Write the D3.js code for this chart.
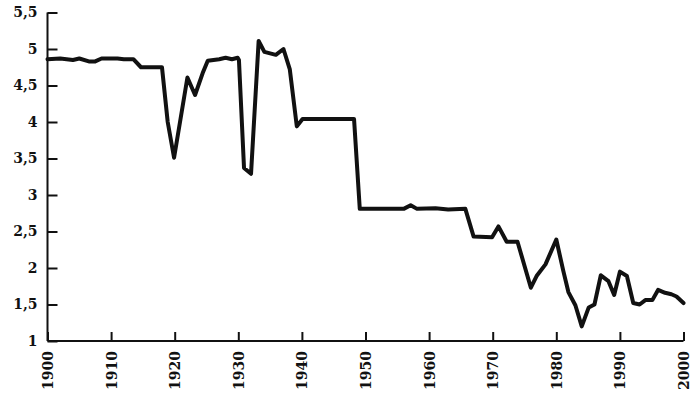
<!DOCTYPE html>
<html>
<head>
<meta charset="utf-8">
<script src="https://cdn.jsdelivr.net/npm/d3@7"></script>
<style>
  body { margin: 0; background: #fff; }
  svg text { font-family: "DejaVu Serif", serif; font-weight: bold; fill: #111; }
</style>
</head>
<body>
<div id="chart"></div>
<script>
// values
const years = [1900, 1902, 1904, 1905, 1906.5, 1907.5, 1908.5, 1911, 1912, 1913.5,
  1914.7, 1918, 1918.9, 1919.9, 1922, 1923.2, 1924.4, 1925.2, 1927, 1928,
  1929, 1929.9, 1930.1, 1930.9, 1932, 1933.2, 1934.1, 1935.9, 1937.1, 1938.1,
  1939.2, 1940.1, 1948.2, 1949.1, 1956, 1957.1, 1958.1, 1961, 1963, 1965.7,
  1967, 1969.9, 1970.9, 1972.2, 1973.9, 1976, 1976.9, 1978.3, 1980, 1981.1,
  1981.9, 1983, 1984, 1985.1, 1986, 1987, 1988.2, 1989.1, 1990, 1991.1,
  1992.1, 1993.1, 1994, 1995.1, 1996, 1997.1, 1998.1, 1998.9, 2000];
const values = [4.86, 4.87, 4.85, 4.87, 4.83, 4.83, 4.87, 4.87, 4.86, 4.86,
  4.75, 4.75, 4.00, 3.51, 4.61, 4.37, 4.67, 4.84, 4.86, 4.88,
  4.86, 4.88, 4.85, 3.37, 3.29, 5.11, 4.96, 4.92, 5.00, 4.72,
  3.94, 4.04, 4.04, 2.81, 2.81, 2.86, 2.81, 2.82, 2.80, 2.81,
  2.43, 2.42, 2.57, 2.36, 2.36, 1.73, 1.89, 2.05, 2.39, 1.96,
  1.67, 1.49, 1.20, 1.46, 1.50, 1.90, 1.82, 1.63, 1.95, 1.89,
  1.52, 1.50, 1.56, 1.56, 1.70, 1.66, 1.64, 1.61, 1.52];
const xTicks = [1900, 1910, 1920, 1930, 1940, 1950, 1960, 1970, 1980, 1990, 2000];
const yTicks = [1, 1.5, 2, 2.5, 3, 3.5, 4, 4.5, 5, 5.5];
const yTickLabels = ["1", "1,5", "2", "2,5", "3", "3,5", "4", "4,5", "5", "5,5"];

const width = 700, height = 400;
const margin = { top: 12.5, right: 16.5, bottom: 59, left: 47.5 };

const svg = d3.select('#chart').append('svg')
  .attr('width', width).attr('height', height);

const x = d3.scaleLinear()
  .domain([1900, 2000])
  .range([margin.left, width - margin.right]);
const y = d3.scaleLinear()
  .domain([1, 5.5])
  .range([height - margin.bottom, margin.top]);

const xAxis = d3.axisBottom(x)
  .tickValues(xTicks)
  .tickSize(-9)
  .tickPadding(10)
  .tickFormat(d3.format('d'));
const yAxis = d3.axisLeft(y)
  .tickValues(yTicks)
  .tickSize(-10)
  .tickPadding(10)
  .tickFormat((d, i) => yTickLabels[i]);

const xAxisGroup = svg.append('g')
  .attr('transform', `translate(0, ${y(1)})`)
  .call(xAxis);
xAxisGroup.select('.domain').attr('d', `M${x(1900)},0H${x(2000)}`);
xAxisGroup.selectAll('text')
  .attr('transform', 'rotate(-90)')
  .attr('text-anchor', 'end')
  .attr('x', -10)
  .attr('y', 0)
  .attr('dy', '0.35em')
  .style('font-size', '14px');

const yAxisGroup = svg.append('g')
  .attr('transform', `translate(${x(1900)}, 0)`)
  .call(yAxis);
yAxisGroup.select('.domain').attr('d', `M0,${y(5.5)}V${y(1)}`);
yAxisGroup.selectAll('text').style('font-size', '14px');

svg.selectAll('.domain, .tick line')
  .attr('stroke', '#111')
  .attr('stroke-width', 2);

const line = d3.line()
  .x((d, i) => x(years[i]))
  .y(d => y(d));

svg.append('path')
  .datum(values)
  .attr('fill', 'none')
  .attr('stroke', '#111')
  .attr('stroke-width', 4)
  .attr('stroke-linejoin', 'round')
  .attr('stroke-linecap', 'round')
  .attr('d', line);
</script>
</body>
</html>
